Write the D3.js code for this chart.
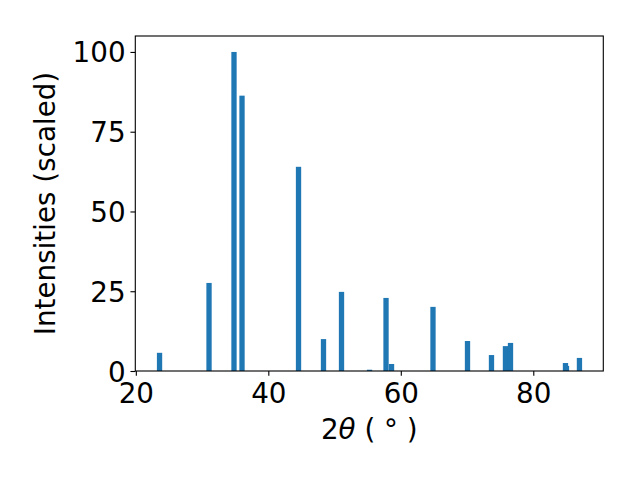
<!DOCTYPE html>
<html>
<head>
<meta charset="utf-8">
<script src="https://cdn.jsdelivr.net/npm/d3@7"></script>
<style>
  html, body { margin: 0; padding: 0; background: #fff; }
  text { font-family: "DejaVu Sans", sans-serif; fill: #000; }
</style>
</head>
<body>
<svg id="chart" width="640" height="480"></svg>
<script>
// 2θ peak positions (degrees)
const positions = [23.58, 31.05, 34.82, 36.03, 44.56, 48.33, 51.05, 55.28, 57.77, 58.60,
                   64.86, 70.07, 73.69, 75.80, 76.56, 84.86, 85.01, 86.97];
// scaled intensities
const intensities = [5.7, 27.6, 100, 86.3, 64.0, 10.0, 24.8, 0.4, 22.9, 2.2,
                     20.1, 9.4, 5.0, 7.8, 8.8, 2.5, 1.6, 4.1];
const xTicks = [20, 40, 60, 80];
const yTicks = [0, 25, 50, 75, 100];
const barWidth = 0.8;

const svg = d3.select("#chart");
svg.append("rect").attr("width", 640).attr("height", 480).attr("fill", "#fff");

const L = 135.3, R = 603.3, T = 36, B = 371;
const x = d3.scaleLinear().domain([19.92, 90.57]).range([L, R]);
const y = d3.scaleLinear().domain([0, 105]).range([B, T]);

const data = positions.map((p, i) => ({ p, v: intensities[i] }));

svg.append("g").selectAll("rect").data(data).join("rect")
  .attr("x", d => x(d.p - barWidth / 2))
  .attr("width", d => x(d.p + barWidth / 2) - x(d.p - barWidth / 2))
  .attr("y", d => y(d.v))
  .attr("height", d => y(0) - y(d.v))
  .attr("fill", "#1f77b4");

const fs = "27.78px";
const tickLen = 4.86;

const gx = svg.append("g").attr("transform", `translate(0,${B})`)
  .call(d3.axisBottom(x).tickValues(xTicks).tickFormat(d3.format("d")).tickSize(tickLen));
gx.select(".domain").remove();
gx.selectAll(".tick line").attr("stroke", "#000").attr("stroke-width", 1.11);
gx.selectAll(".tick text").attr("y", 32).attr("dy", null)
  .style("font-size", fs).attr("fill", "#000");

const gy = svg.append("g").attr("transform", `translate(${L},0)`)
  .call(d3.axisLeft(y).tickValues(yTicks).tickFormat(d3.format("d")).tickSize(tickLen).tickPadding(4.86));
gy.select(".domain").remove();
gy.selectAll(".tick line").attr("stroke", "#000").attr("stroke-width", 1.11);
gy.selectAll(".tick text").attr("dy", "0.36em")
  .style("font-size", fs).attr("fill", "#000");

svg.selectAll("g.tick text").style("font-family", "'DejaVu Sans', sans-serif");

// spines
svg.append("rect")
  .attr("x", L).attr("y", T).attr("width", R - L).attr("height", B - T)
  .attr("fill", "none").attr("stroke", "#000").attr("stroke-width", 1.11);

// x label
const xl = svg.append("text")
  .attr("x", (L + R) / 2).attr("y", 439)
  .attr("text-anchor", "middle").style("font-size", fs);
xl.append("tspan").text("2");
xl.append("tspan").style("font-style", "italic").text("θ");
xl.append("tspan").text(" ( ° )");

// y label
svg.append("text")
  .attr("transform", `translate(55,${(T + B) / 2}) rotate(-90)`)
  .attr("text-anchor", "middle").style("font-size", fs)
  .text("Intensities (scaled)");
</script>
</body>
</html>
